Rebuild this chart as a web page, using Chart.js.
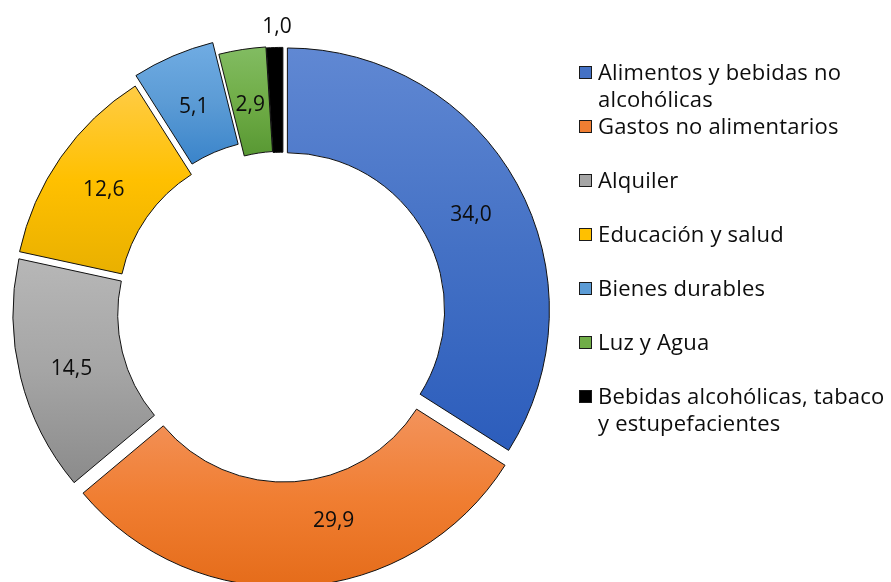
<!DOCTYPE html>
<html>
<head>
<meta charset="utf-8">
<script src="https://cdn.jsdelivr.net/npm/chart.js@4/dist/chart.umd.min.js"></script>
<style>
  html, body { margin: 0; padding: 0; background: #ffffff; }
  #wrap { position: relative; width: 891px; height: 582px; overflow: hidden; font-family: "Open Sans", "Noto Sans", sans-serif; }
  #c { position: absolute; left: 0; top: 0; }
  .lg-item { position: absolute; left: 579px; color: #0d0d0d; font-size: 22px; letter-spacing: 0.2px; line-height: 27px; white-space: nowrap; }
  .lg-box { position: absolute; left: 0; top: 8px; width: 13px; height: 13px; border: 1px solid #1a1a1a; box-sizing: border-box; }
  .lg-text { position: absolute; left: 19px; top: 0; }
</style>
</head>
<body>
<div id="wrap">
  <canvas id="c" width="891" height="582"></canvas>
  <div id="legend"></div>
</div>
<script>
// ---- data ----
const categories = [
  ['Alimentos y bebidas no', 'alcohólicas'],
  'Gastos no alimentarios',
  'Alquiler',
  'Educación y salud',
  'Bienes durables',
  'Luz y Agua',
  ['Bebidas alcohólicas, tabaco', 'y estupefacientes']
];
const shares = [34.0, 29.9, 14.5, 12.6, 5.1, 2.9, 1.0];

// ---- style ----
const sliceColors = [
  { top: '#6088d3', mid: '#4471c5', bottom: '#2c5dbc' },
  { top: '#f3935c', mid: '#f07e32', bottom: '#e56c1a' },
  { top: '#b7b7b7', mid: '#a5a5a5', bottom: '#8b8b8b' },
  { top: '#ffcc45', mid: '#ffc000', bottom: '#e9b000' },
  { top: '#70ace3', mid: '#5b9bd5', bottom: '#3a84ca' },
  { top: '#82bc62', mid: '#70ad47', bottom: '#589833' },
  { top: '#000000', mid: '#000000', bottom: '#000000' }
];
const explodePx = [5, 12.5, 8.3, 9, 17, 4, 3];

function sliceAngles(i) {
  const total = shares.reduce((a, b) => a + b, 0);
  let cum = 0;
  for (let k = 0; k < i; k++) cum += shares[k];
  const a0 = -Math.PI / 2 + 2 * Math.PI * cum / total;
  const a1 = a0 + 2 * Math.PI * shares[i] / total;
  return [a0, a1];
}

function sliceFill(context) {
  const chart = context.chart;
  const i = context.dataIndex;
  const col = sliceColors[i];
  const ca = chart.chartArea;
  const ctrl = chart.getDatasetMeta(0).controller;
  if (!ca || !ctrl || !ctrl.outerRadius) return col.mid;
  const cy = (ca.top + ca.bottom) / 2;
  const [a0, a1] = sliceAngles(i);
  const mid = (a0 + a1) / 2;
  const oy = cy + Math.sin(mid) * explodePx[i];
  let ymin = Infinity, ymax = -Infinity;
  for (let s = 0; s <= 80; s++) {
    const a = a0 + (a1 - a0) * s / 80;
    for (const rr of [ctrl.outerRadius, ctrl.innerRadius]) {
      const y = oy + rr * Math.sin(a);
      if (y < ymin) ymin = y;
      if (y > ymax) ymax = y;
    }
  }
  const g = chart.ctx.createLinearGradient(0, ymin, 0, ymax);
  g.addColorStop(0, col.top);
  g.addColorStop(0.5, col.mid);
  g.addColorStop(1, col.bottom);
  return g;
}

// explode: translate each slice along its bisector while it is drawn
const explodePlugin = {
  id: 'explode',
  beforeDatasetDraw(chart, args) {
    args.meta.data.forEach((arc, i) => {
      const mid = (arc.startAngle + arc.endAngle) / 2;
      const t = explodePx[i] || 0;
      arc._dx = Math.cos(mid) * t; arc._dy = Math.sin(mid) * t;
      arc.x += arc._dx; arc.y += arc._dy;
    });
  },
  afterDatasetDraw(chart, args) {
    args.meta.data.forEach((arc) => {
      arc.x -= arc._dx; arc.y -= arc._dy;
    });
  }
};

// value labels inside the ring (outside for the smallest slice)
const valueLabels = {
  id: 'valueLabels',
  afterDatasetsDraw(chart, args, opts) {
    const ctx = chart.ctx;
    const meta = chart.getDatasetMeta(0);
    ctx.save();
    ctx.font = '21px "Open Sans", "Noto Sans", sans-serif';
    ctx.fillStyle = '#0d0d0d';
    ctx.textAlign = 'center';
    ctx.textBaseline = 'middle';
    meta.data.forEach((arc, i) => {
      const mid = (arc.startAngle + arc.endAngle) / 2;
      const t = explodePx[i] || 0;
      const outside = opts.outside.includes(i);
      const rad = outside ? arc.outerRadius + t + 23 : (arc.innerRadius + arc.outerRadius) / 2 + t;
      const n = opts.nudge[i] || [0, 0];
      const x = arc.x + Math.cos(mid) * rad + n[0];
      const y = arc.y + Math.sin(mid) * rad + n[1];
      ctx.fillText(shares[i].toFixed(1).replace('.', ','), x, y);
    });
    ctx.restore();
  }
};

new Chart(document.getElementById('c'), {
  type: 'doughnut',
  data: {
    labels: categories,
    datasets: [{
      data: shares,
      backgroundColor: sliceFill,
      borderColor: '#111111',
      borderWidth: 1
    }]
  },
  options: {
    responsive: false,
    animation: false,
    events: [],
    cutout: '60%',
    layout: { padding: { left: 20.5, right: 345.5, top: 49.9, bottom: 7.1 } },
    plugins: {
      legend: { display: false },
      tooltip: { enabled: false },
      valueLabels: {
        outside: [6],
        nudge: [[0, 6], [36, -13], [0, 4], [0, 3], [0, 3], [0, 4], [3, 2]]
      }
    }
  },
  plugins: [explodePlugin, valueLabels]
});

// legend built from the categories
const legend = document.getElementById('legend');
categories.forEach((lab, i) => {
  const item = document.createElement('div');
  item.className = 'lg-item';
  item.style.top = (58 + 54 * i) + 'px';
  const box = document.createElement('div');
  box.className = 'lg-box';
  box.style.background = sliceColors[i].mid;
  const txt = document.createElement('div');
  txt.className = 'lg-text';
  const lines = Array.isArray(lab) ? lab : [lab];
  lines.forEach((ln, k) => {
    if (k) txt.appendChild(document.createElement('br'));
    txt.appendChild(document.createTextNode(ln));
  });
  item.appendChild(box);
  item.appendChild(txt);
  legend.appendChild(item);
});
</script>
</body>
</html>
